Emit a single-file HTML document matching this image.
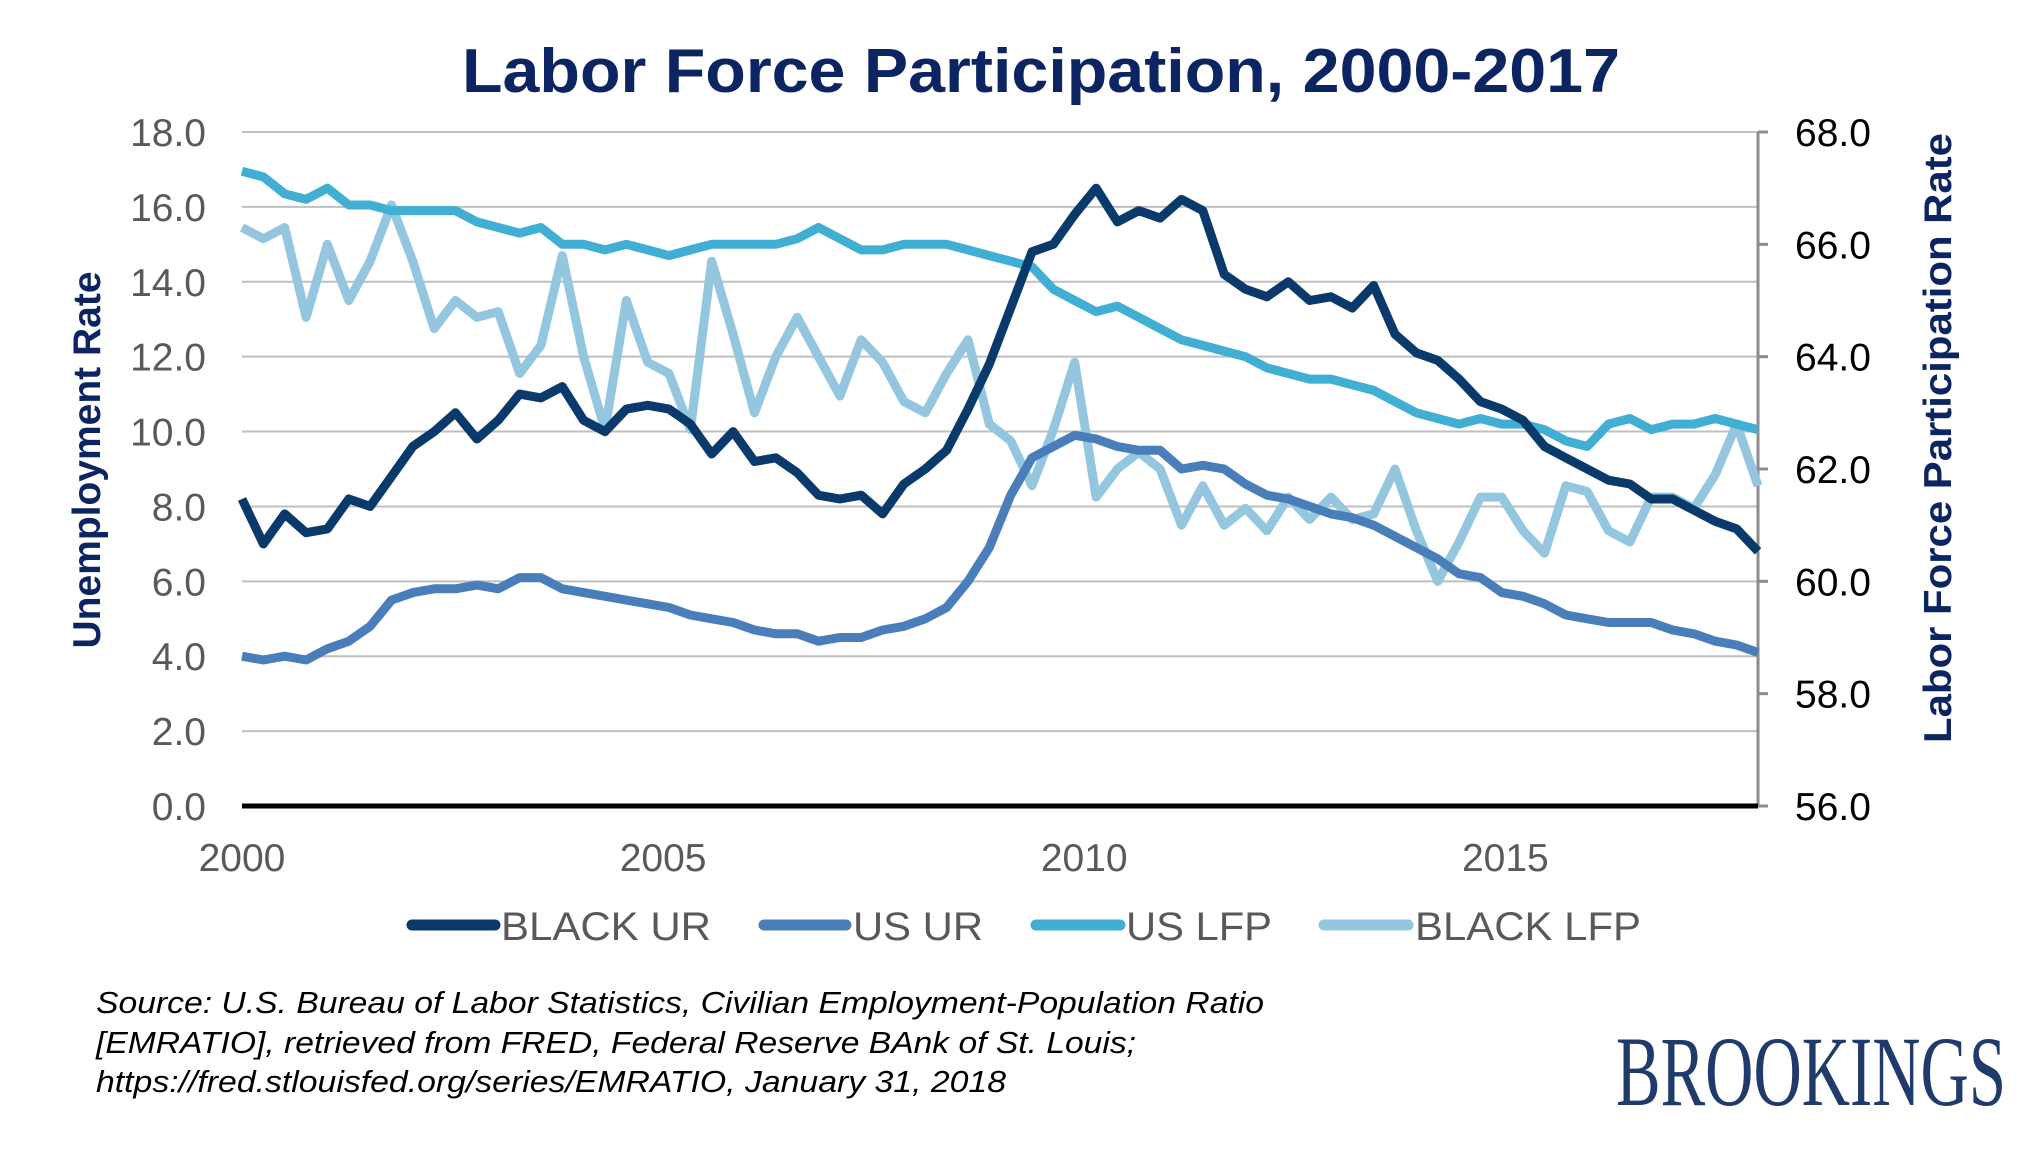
<!DOCTYPE html>
<html><head><meta charset="utf-8"><style>
html,body{margin:0;padding:0;background:#fff}
svg{display:block}
</style></head><body>
<svg id="chart" width="2029" height="1155" viewBox="0 0 2029 1155" xmlns="http://www.w3.org/2000/svg" font-family="Liberation Sans, Arial, sans-serif">
<text x="462" y="92" font-size="62" font-weight="bold" fill="#0c2461" textLength="1158" lengthAdjust="spacingAndGlyphs">Labor Force Participation, 2000-2017</text>
<g id="grid"></g>
<g id="series"></g>
<text transform="translate(100,460) rotate(-90)" text-anchor="middle" font-size="39" font-weight="bold" fill="#0c2461">Unemployment Rate</text>
<text transform="translate(1951,438) rotate(-90)" text-anchor="middle" font-size="39" font-weight="bold" fill="#0c2461" textLength="610" lengthAdjust="spacingAndGlyphs">Labor Force Participation Rate</text>
<g id="legend" font-size="40" fill="#595959">
<g><line x1="412" y1="925" x2="495" y2="925" stroke="#0a3a6b" stroke-width="11" stroke-linecap="round"/><text x="501" y="940" textLength="210" lengthAdjust="spacingAndGlyphs">BLACK UR</text></g>
<g><line x1="764" y1="925" x2="846" y2="925" stroke="#4a7ebb" stroke-width="11" stroke-linecap="round"/><text x="853" y="940" textLength="130" lengthAdjust="spacingAndGlyphs">US UR</text></g>
<g><line x1="1036" y1="925" x2="1120" y2="925" stroke="#41aed4" stroke-width="11" stroke-linecap="round"/><text x="1126" y="940" textLength="146" lengthAdjust="spacingAndGlyphs">US LFP</text></g>
<g><line x1="1324" y1="925" x2="1408" y2="925" stroke="#94c6df" stroke-width="11" stroke-linecap="round"/><text x="1415" y="940" textLength="226" lengthAdjust="spacingAndGlyphs">BLACK LFP</text></g>
</g>
<g font-size="31" font-style="italic" fill="#000">
<text x="96" y="1013" textLength="1168" lengthAdjust="spacingAndGlyphs">Source: U.S. Bureau of Labor Statistics, Civilian Employment-Population Ratio</text>
<text x="96" y="1053" textLength="1040" lengthAdjust="spacingAndGlyphs">[EMRATIO], retrieved from FRED, Federal Reserve BAnk of St. Louis;</text>
<text x="96" y="1092" textLength="910" lengthAdjust="spacingAndGlyphs">https://fred.stlouisfed.org/series/EMRATIO, January 31, 2018</text>
</g>
<text x="1616" y="1105" font-family="Liberation Serif, serif" font-size="100" fill="#1f3a6b" textLength="390" lengthAdjust="spacingAndGlyphs">BROOKINGS</text>
</svg>
<script>
const leftTicks=["0.0","2.0","4.0","6.0","8.0","10.0","12.0","14.0","16.0","18.0"];
const rightTicks=["56.0","58.0","60.0","62.0","64.0","66.0","68.0"];
const yearTicks=["2000","2005","2010","2015"];
const blackUR=[8.2,7.0,7.8,7.3, 7.4,8.2,8.0,8.8, 9.6,10.0,10.5,9.8, 10.3,11.0,10.9,11.2, 10.3,10.0,10.6,10.7, 10.6,10.2,9.4,10.0, 9.2,9.3,8.9,8.3, 8.2,8.3,7.8,8.6, 9.0,9.5,10.6,11.8, 13.3,14.8,15.0,15.8, 16.5,15.6,15.9,15.7, 16.2,15.9,14.2,13.8, 13.6,14.0,13.5,13.6, 13.3,13.9,12.6,12.1, 11.9,11.4,10.8,10.6, 10.3,9.6,9.3,9.0, 8.7,8.6,8.2,8.2, 7.9,7.6,7.4,6.8];
const usUR=[4.0,3.9,4.0,3.9, 4.2,4.4,4.8,5.5, 5.7,5.8,5.8,5.9, 5.8,6.1,6.1,5.8, 5.7,5.6,5.5,5.4, 5.3,5.1,5.0,4.9, 4.7,4.6,4.6,4.4, 4.5,4.5,4.7,4.8, 5.0,5.3,6.0,6.9, 8.3,9.3,9.6,9.9, 9.8,9.6,9.5,9.5, 9.0,9.1,9.0,8.6, 8.3,8.2,8.0,7.8, 7.7,7.5,7.2,6.9, 6.6,6.2,6.1,5.7, 5.6,5.4,5.1,5.0, 4.9,4.9,4.9,4.7, 4.6,4.4,4.3,4.1];
const usLFP=[67.3,67.2,66.9,66.8, 67.0,66.7,66.7,66.6, 66.6,66.6,66.6,66.4, 66.3,66.2,66.3,66.0, 66.0,65.9,66.0,65.9, 65.8,65.9,66.0,66.0, 66.0,66.0,66.1,66.3, 66.1,65.9,65.9,66.0, 66.0,66.0,65.9,65.8, 65.7,65.6,65.2,65.0, 64.8,64.9,64.7,64.5, 64.3,64.2,64.1,64.0, 63.8,63.7,63.6,63.6, 63.5,63.4,63.2,63.0, 62.9,62.8,62.9,62.8, 62.8,62.7,62.5,62.4, 62.8,62.9,62.7,62.8, 62.8,62.9,62.8,62.7];
const blackLFP=[66.3,66.1,66.3,64.7, 66.0,65.0,65.7,66.7, 65.7,64.5,65.0,64.7, 64.8,63.7,64.2,65.8, 64.0,62.7,65.0,63.9, 63.7,62.7,65.7,64.4, 63.0,64.0,64.7,64.0, 63.3,64.3,63.9,63.2, 63.0,63.7,64.3,62.8, 62.5,61.7,62.7,63.9, 61.5,62.0,62.3,62.0, 61.0,61.7,61.0,61.3, 60.9,61.5,61.1,61.5, 61.1,61.2,62.0,60.9, 60.0,60.7,61.5,61.5, 60.9,60.5,61.7,61.6, 60.9,60.7,61.5,61.5, 61.3,61.9,62.8,61.7];
const NS="http://www.w3.org/2000/svg";
const L=242,R=1758,T=132,B=806;
function xPos(i,n){return L+(R-L)*i/(n-1);}
function xYear(y){return L+(R-L)*(y-2000)/18;}
function yLeft(v){return B-(B-T)*v/18;}
function yRight(v){return B-(B-T)*(v-56)/12;}
function mk(tag,attrs,parent){const e=document.createElementNS(NS,tag);for(const k in attrs)e.setAttribute(k,attrs[k]);parent.appendChild(e);return e;}
const grid=document.getElementById('grid');
leftTicks.forEach(t=>{const v=parseFloat(t);const y=yLeft(v);
 if(v>0){const g=mk('line',{x1:L,x2:R,y1:y,y2:y,stroke:'#bfbfbf','stroke-width':2},grid);
 
 }
 const tx=mk('text',{x:206,y:y+14,'text-anchor':'end','font-size':39,fill:'#595959'},grid);tx.textContent=t;
 
 });
const ax=mk('line',{x1:R,x2:R,y1:T,y2:B,stroke:'#8c8c8c','stroke-width':3},grid);


rightTicks.forEach(t=>{const y=yRight(parseFloat(t));
 mk('line',{x1:R,x2:R+10,y1:y,y2:y,stroke:'#8c8c8c','stroke-width':3},grid);
 const tx=mk('text',{x:1795,y:y+14,'font-size':39,fill:'#000'},grid);tx.textContent=t;
 
 });
yearTicks.forEach(t=>{const x=xYear(parseFloat(t));
 const tx=mk('text',{x:x,y:871,'text-anchor':'middle','font-size':39,fill:'#595959'},grid);tx.textContent=t;
 
 });
const zl=mk('line',{x1:L,x2:R,y1:B,y2:B,stroke:'#000','stroke-width':5},grid);


const ser=document.getElementById('series');
function draw(arr,yf,color,name){
 const pts=arr.map((v,i)=>xPos(i,arr.length).toFixed(1)+','+yf(v).toFixed(1)).join(' ');
 const p=mk('polyline',{points:pts,fill:'none',stroke:color,'stroke-width':9,'stroke-linejoin':'round'},ser);
 
 
}
draw(blackLFP,yRight,'#94c6df','series-black-lfp');
draw(usLFP,yRight,'#41aed4','series-us-lfp');
draw(usUR,yLeft,'#4a7ebb','series-us-ur');
draw(blackUR,yLeft,'#0a3a6b','series-black-ur');
</script>
</body></html>
